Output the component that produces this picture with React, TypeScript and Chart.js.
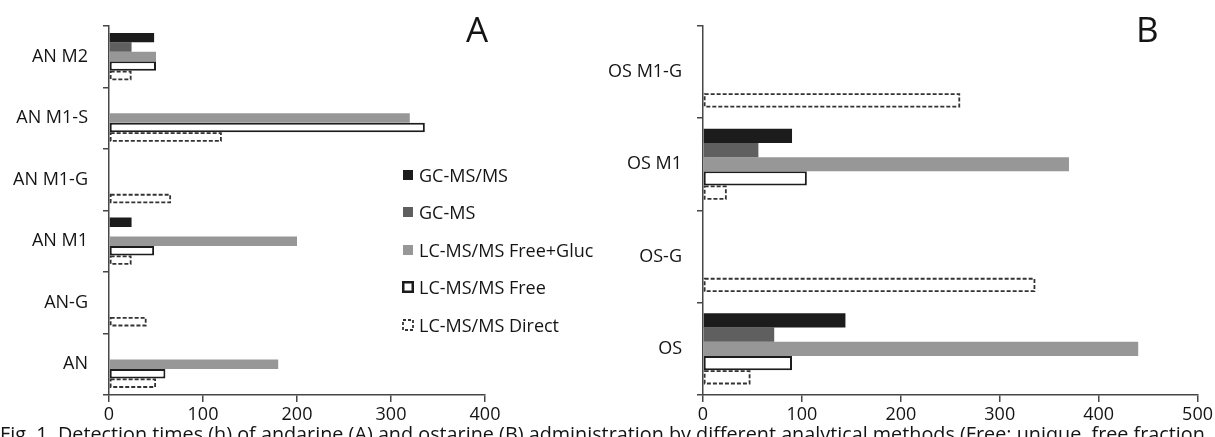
import React, { useEffect, useRef } from 'react';
import { Chart, registerables } from 'chart.js';

Chart.register(...registerables);

// ---------- data ----------
const seriesNames = ['GC-MS/MS', 'GC-MS', 'LC-MS/MS Free+Gluc', 'LC-MS/MS Free', 'LC-MS/MS Direct'];

const categoriesA = ['AN M2', 'AN M1-S', 'AN M1-G', 'AN M1', 'AN-G', 'AN'];
const gcmsmsA = [48, null, null, 24, null, null];
const gcmsA = [24, null, null, null, null, null];
const lcFreeGlucA = [50, 320, null, 200, null, 180];
const lcFreeA = [50, 336, null, 48, null, 60];
const lcDirectA = [24, 120, 66, 24, 40, 50];

const categoriesB = ['OS M1-G', 'OS M1', 'OS-G', 'OS'];
const gcmsmsB = [null, 90, null, 144];
const gcmsB = [null, 56, null, 72];
const lcFreeGlucB = [null, 370, null, 440];
const lcFreeB = [null, 105, null, 90];
const lcDirectB = [260, 24, 336, 48];

const axisMaxA = 400;
const axisMaxB = 500;
const axisStep = 100;

const panelLetters = ['A', 'B'];
const caption =
  'Fig. 1. Detection times (h) of andarine (A) and ostarine (B) administration by different analytical methods (Free: unique, free fraction';

// ---------- styles ----------
const FONT = "'Open Sans', sans-serif";
const TEXT = '#141414';
const AXIS = '#474747';
const C_BLACK = '#1c1c1c';
const C_DARK = '#5f5f5f';
const C_LIGHT = '#979797';
const C_DASH = '#333333';

const dashedBarsPlugin = {
  id: 'dashedBars',
  afterDatasetsDraw(chart: any) {
    const ctx = chart.ctx;
    chart.data.datasets.forEach((ds: any, i: number) => {
      if (!ds.dashed) return;
      const meta = chart.getDatasetMeta(i);
      ctx.save();
      ctx.setLineDash([4, 2]);
      ctx.lineWidth = 1.8;
      ctx.strokeStyle = C_DASH;
      meta.data.forEach((el: any, j: number) => {
        if (ds.data[j] == null) return;
        const p = el.getProps(['x', 'y', 'base', 'height'], true);
        const l = Math.min(p.x, p.base);
        const r = Math.max(p.x, p.base);
        const t = p.y - p.height / 2;
        const b = p.y + p.height / 2;
        ctx.strokeRect(l + 0.9, t + 0.9, r - l - 1.8, b - t - 1.8);
      });
      ctx.restore();
    });
  },
};

function buildDatasets(values: (number | null)[][]) {
  const styles = [
    { backgroundColor: C_BLACK, borderWidth: 0 },
    { backgroundColor: C_DARK, borderWidth: 0 },
    { backgroundColor: C_LIGHT, borderWidth: 0 },
    { backgroundColor: '#ffffff', borderColor: C_BLACK, borderWidth: 2, borderSkipped: false },
    { backgroundColor: 'rgba(255,255,255,0)', borderWidth: 0, dashed: true },
  ];
  return values.map((v, i) => ({
    label: seriesNames[i],
    data: v,
    categoryPercentage: 0.77,
    barPercentage: 1,
    ...styles[i],
  }));
}

function Panel(props: {
  categories: string[];
  values: (number | null)[][];
  max: number;
  left: number;
  width: number;
  yWidth: number;
  padRight: number;
}) {
  const ref = useRef<HTMLCanvasElement>(null);
  useEffect(() => {
    if (!ref.current) return;
    const chart = new Chart(ref.current, {
      type: 'bar',
      data: { labels: props.categories, datasets: buildDatasets(props.values) as any },
      options: {
        indexAxis: 'y',
        animation: false,
        responsive: false,
        maintainAspectRatio: false,
        devicePixelRatio: 1,
        layout: { padding: { left: 0, top: 15, right: props.padRight, bottom: 0 } },
        plugins: { legend: { display: false }, tooltip: { enabled: false } },
        scales: {
          x: {
            min: 0,
            max: props.max,
            ticks: { stepSize: axisStep, color: TEXT, font: { family: FONT, size: 18 }, padding: 2 },
            grid: { drawOnChartArea: false, drawTicks: true, tickLength: 7, color: AXIS, lineWidth: 1.5 },
            border: { display: true, color: AXIS, width: 1.5 },
            afterFit: (s: any) => {
              s.height = 42;
            },
          },
          y: {
            ticks: { color: TEXT, font: { family: FONT, size: 18 }, padding: 15 },
            grid: { drawOnChartArea: false, drawTicks: true, tickLength: 6, color: AXIS, lineWidth: 1.5, offset: true },
            border: { display: true, color: AXIS, width: 1.5 },
            afterFit: (s: any) => {
              s.width = props.yWidth;
            },
          },
        },
      },
      plugins: [dashedBarsPlugin],
    });
    return () => chart.destroy();
  }, []);
  return (
    <canvas
      ref={ref}
      width={props.width}
      height={437}
      style={{ position: 'absolute', left: props.left, top: 0, width: props.width, height: 437 }}
    />
  );
}

function LegendBox({ i }: { i: number }) {
  const sq: React.CSSProperties = { width: 10, height: 10, marginRight: 6, flex: 'none' };
  if (i < 3) {
    const fills = [C_BLACK, C_DARK, C_LIGHT];
    return <div style={{ ...sq, background: fills[i] }} />;
  }
  return (
    <svg width={12} height={12} style={{ flex: 'none', marginLeft: -1, marginRight: 5, display: 'block' }}>
      {i === 3 ? (
        <rect x={1.25} y={1.25} width={9.5} height={9.5} fill="#fff" stroke={C_BLACK} strokeWidth={2.5} />
      ) : (
        <rect
          x={1}
          y={1}
          width={10}
          height={10}
          fill="#fff"
          stroke={C_DASH}
          strokeWidth={1.8}
          strokeDasharray="3 2"
        />
      )}
    </svg>
  );
}

export default function App() {
  const legendTops = [165, 202, 240, 277, 315];
  return (
    <div
      style={{
        position: 'absolute',
        left: 0,
        top: 0,
        width: 1215,
        height: 437,
        overflow: 'hidden',
        background: '#fff',
        fontFamily: FONT,
        color: TEXT,
      }}
    >
      <Panel
        categories={categoriesA}
        values={[gcmsmsA, gcmsA, lcFreeGlucA, lcFreeA, lcDirectA]}
        max={axisMaxA}
        left={0}
        width={600}
        yWidth={109}
        padRight={115}
      />
      <Panel
        categories={categoriesB}
        values={[gcmsmsB, gcmsB, lcFreeGlucB, lcFreeB, lcDirectB]}
        max={axisMaxB}
        left={600}
        width={615}
        yWidth={103}
        padRight={17}
      />
      <div style={{ position: 'absolute', left: 466, top: 11, fontSize: 35, lineHeight: '35px' }}>{panelLetters[0]}</div>
      <div style={{ position: 'absolute', left: 1136, top: 11, fontSize: 35, lineHeight: '35px' }}>{panelLetters[1]}</div>
      {seriesNames.map((n, i) => (
        <div
          key={n}
          style={{
            position: 'absolute',
            left: 403,
            top: legendTops[i],
            height: 20,
            display: 'flex',
            alignItems: 'center',
            fontSize: 18,
            lineHeight: '20px',
            whiteSpace: 'nowrap',
          }}
        >
          <LegendBox i={i} />
          <span>{n}</span>
        </div>
      ))}
      <div
        style={{
          position: 'absolute',
          left: 0,
          top: 424,
          fontSize: 19.8,
          lineHeight: '20px',
          whiteSpace: 'nowrap',
        }}
      >
        {caption}
      </div>
    </div>
  );
}
